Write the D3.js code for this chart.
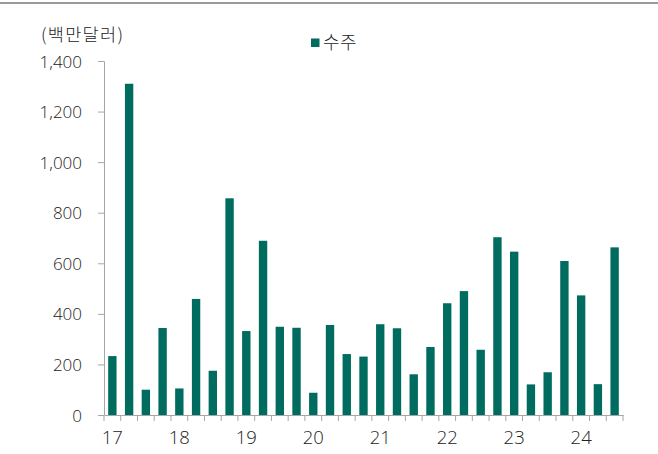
<!DOCTYPE html>
<html><head><meta charset="utf-8">
<script src="https://cdn.jsdelivr.net/npm/d3@7"></script>
<style>body{margin:0;background:#fff;}svg{display:block;font-family:"Noto Sans CJK KR","Noto Sans",sans-serif;}</style>
</head><body>
<svg id="c" width="658" height="454"></svg>
<script>
const quarters = ["17Q1","17Q2","17Q3","17Q4","18Q1","18Q2","18Q3","18Q4","19Q1","19Q2","19Q3","19Q4","20Q1","20Q2","20Q3","20Q4","21Q1","21Q2","21Q3","21Q4","22Q1","22Q2","22Q3","22Q4","23Q1","23Q2","23Q3","23Q4","24Q1","24Q2","24Q3"];
const orders = [233,1310,100,344,105,459,175,857,332,689,349,345,88,356,241,231,359,343,161,269,442,490,258,703,646,121,169,609,473,122,663];
const yTicks = [0,200,400,600,800,1000,1200,1400];
const yearLabels = ["17","18","19","20","21","22","23","24"];
const seriesName = "수주";
const unitLabel = "(백만달러)";

(function(){
const svg = d3.select("#c");
const color = "#006c60";
const textColor = "#222";
const numFont = "'Open Sans','Noto Sans',sans-serif";
const mL = 104, mR = 623, mT = 61, mB = 415;

svg.append("line").attr("x1",0).attr("x2",658).attr("y1",3).attr("y2",3)
  .attr("stroke","#9a9a9a").attr("stroke-width",2);

const x = d3.scaleBand().domain(quarters).range([mL,mR]).paddingInner(0.5).paddingOuter(0.25);
const xb = d3.scaleBand().domain(quarters).range([mL,mR]);
const y = d3.scaleLinear().domain([0,1400]).range([mB,mT]);

svg.selectAll("rect.bar").data(orders).join("rect").attr("class","bar")
  .attr("x",(d,i)=>x(quarters[i])).attr("width",x.bandwidth())
  .attr("y",d=>y(d)).attr("height",d=>y(0)-y(d))
  .attr("fill",color);

const ya = svg.append("g").attr("transform",`translate(${mL},0)`)
  .call(d3.axisLeft(y).tickValues(yTicks).tickSize(6).tickPadding(16).tickFormat(d3.format(",")));
ya.select(".domain").attr("stroke","#a6a6a6").attr("d",`M-6,${mT+0.5}H0.5V${mB}`);
ya.selectAll(".tick line").attr("stroke","#a6a6a6");
ya.selectAll("text").attr("font-size",17).attr("fill",textColor).attr("font-family",numFont)
  .attr("font-weight",300).attr("dy","0.36em");

const xa = svg.append("g").attr("transform",`translate(0,${mB})`)
  .call(d3.axisBottom(xb).tickValues([]).tickSizeOuter(0));
xa.select(".domain").attr("stroke","#a6a6a6");
const boundaries = quarters.map(q=>xb(q)).concat([mR]);
xa.selectAll("line.tk").data(boundaries).join("line").attr("class","tk")
  .attr("x1",d=>d).attr("x2",d=>d).attr("y1",0).attr("y2",6).attr("stroke","#a6a6a6");
xa.selectAll("text.yl").data(yearLabels).join("text").attr("class","yl")
  .attr("x",(d,i)=>x(quarters[i*4])+x.bandwidth()/2).attr("y",28.5)
  .attr("text-anchor","middle").attr("font-size",18.5).attr("fill",textColor).attr("font-family",numFont)
  .attr("font-weight",300).text(d=>d);

svg.append("text").attr("x",41).attr("y",41).attr("font-size",17.5).attr("letter-spacing",1.3)
  .attr("fill",textColor).attr("font-weight",300).text(unitLabel);

svg.append("rect").attr("x",311).attr("y",38.5).attr("width",8.5).attr("height",8.5).attr("fill",color);
svg.append("text").attr("x",323).attr("y",49).attr("font-size",18).attr("letter-spacing",0.5)
  .attr("fill",textColor).attr("font-weight",300).text(seriesName);
})();
</script>
</body></html>
